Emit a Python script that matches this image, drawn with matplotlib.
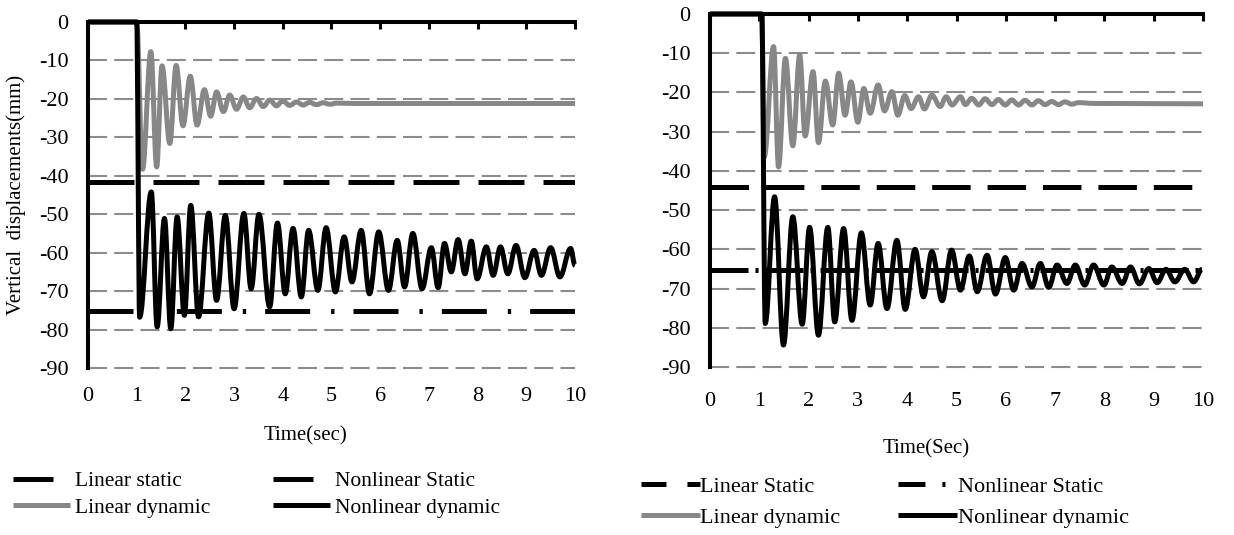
import matplotlib
matplotlib.use("Agg")
import matplotlib.pyplot as plt
from matplotlib.lines import Line2D
from matplotlib.path import Path
from matplotlib.patches import PathPatch

plt.rcParams["font.family"] = ["Liberation Serif", "DejaVu Serif"]
plt.rcParams["lines.scale_dashes"] = False   # dash lengths in points
plt.rcParams["axes.unicode_minus"] = False

# ---------------- data ----------------
# left panel
lin_static_a = -41.7
nonlin_static_a = -75.2

lin_dyn_t_a = [0, 1.0, 1.12, 1.29, 1.41, 1.52, 1.68, 1.81, 1.95, 2.10,
               2.24, 2.39, 2.52, 2.64, 2.78, 2.91, 3.05, 3.19, 3.32, 3.46,
               3.60, 3.73, 3.87, 4.00, 4.14, 4.28, 4.42, 4.55, 4.69, 4.83,
               4.97, 5.10, 5.5, 10.0]
lin_dyn_y_a = [0, 0, -38.3, -7.7, -37.7, -11.4, -31.6, -11.3, -27.0, -14.1,
               -26.8, -17.6, -24.5, -18.2, -23.3, -19.0, -22.7, -19.5, -22.3, -19.9,
               -22.0, -20.3, -21.8, -20.5, -21.7, -20.8, -21.6, -20.9, -21.5, -21.0,
               -21.4, -21.1, -21.2, -21.2]

nonlin_dyn_t_a = [0, 1.0, 1.06, 1.30, 1.42, 1.57, 1.70, 1.83, 1.98, 2.11,
                  2.27, 2.48, 2.64, 2.82, 3.00, 3.20, 3.35, 3.51, 3.73, 3.89,
                  4.05, 4.21, 4.38, 4.53, 4.72, 4.89, 5.08, 5.26, 5.42, 5.61,
                  5.78, 5.97, 6.17, 6.35, 6.50, 6.67, 6.86, 7.05, 7.19, 7.32,
                  7.46, 7.60, 7.74, 7.87, 7.99, 8.18, 8.32, 8.47, 8.62, 8.79,
                  8.97, 9.16, 9.31, 9.50, 9.69, 9.91, 10.0]
nonlin_dyn_y_a = [0, 0, -76.8, -44.2, -79.3, -51.1, -79.8, -50.7, -76.3, -47.7,
                  -76.7, -49.7, -72.4, -50.3, -74.6, -49.8, -69.4, -50.0, -74.1, -52.3,
                  -70.7, -53.7, -71.5, -54.2, -69.8, -53.5, -70.2, -55.9, -67.6, -54.2,
                  -70.7, -54.6, -69.8, -56.8, -68.9, -55.0, -69.4, -58.7, -69.1, -57.6,
                  -65.0, -56.6, -65.5, -57.0, -66.8, -58.5, -65.9, -58.5, -65.5, -58.1,
                  -66.5, -59.4, -65.9, -58.7, -66.3, -58.9, -63.3]

# right panel
lin_static_b = -44.1
nonlin_static_b = -65.3

lin_dyn_t_b = [0, 1.05, 1.10, 1.29, 1.39, 1.53, 1.68, 1.82, 1.93, 2.09,
               2.20, 2.34, 2.49, 2.61, 2.74, 2.86, 3.00, 3.12, 3.25, 3.41,
               3.54, 3.69, 3.81, 3.95, 4.08, 4.23, 4.35, 4.50, 4.67, 4.79,
               4.91, 5.08, 5.18, 5.31, 5.45, 5.58, 5.72, 5.85, 5.99, 6.12,
               6.26, 6.39, 6.53, 6.66, 6.80, 6.93, 7.07, 7.20, 7.34, 7.47,
               7.8, 10.0]
lin_dyn_y_b = [0, 0, -36.5, -8.3, -39.0, -11.3, -33.6, -10.4, -31.1, -14.7,
               -32.8, -17.1, -28.3, -15.1, -25.8, -17.3, -27.6, -19.0, -25.3, -18.1,
               -24.7, -19.8, -25.8, -20.8, -24.1, -21.1, -24.2, -20.7, -23.6, -21.1,
               -23.2, -21.1, -23.1, -21.5, -23.2, -21.6, -23.1, -21.8, -23.2, -21.9,
               -23.2, -22.0, -23.2, -22.1, -23.1, -22.3, -23.1, -22.4, -23.0, -22.6,
               -22.8, -22.9]

nonlin_dyn_t_b = [0, 1.05, 1.12, 1.31, 1.49, 1.68, 1.87, 2.02, 2.20, 2.39,
                  2.53, 2.71, 2.88, 3.07, 3.25, 3.41, 3.59, 3.79, 3.96, 4.16,
                  4.33, 4.50, 4.71, 4.90, 5.08, 5.26, 5.42, 5.62, 5.79, 5.99,
                  6.16, 6.33, 6.53, 6.70, 6.87, 7.04, 7.24, 7.41, 7.60, 7.78,
                  7.99, 8.15, 8.36, 8.53, 8.71, 8.90, 9.07, 9.25, 9.43, 9.63,
                  9.81, 9.98]
nonlin_dyn_y_b = [0, 0, -78.9, -46.6, -84.4, -51.7, -79.1, -54.4, -81.9, -54.4,
                  -78.5, -54.7, -78.1, -55.8, -74.2, -58.5, -75.1, -57.7, -75.3, -60.0,
                  -72.1, -60.6, -73.1, -60.2, -70.4, -61.7, -70.8, -61.5, -71.4, -62.1,
                  -70.4, -63.6, -69.6, -63.6, -69.7, -64.0, -68.7, -64.0, -69.1, -64.0,
                  -69.1, -64.5, -68.7, -64.5, -68.8, -64.9, -68.5, -65.1, -68.3, -65.1,
                  -68.3, -65.1]

x_ticks = list(range(0, 11))
y_ticks = list(range(-90, 1, 10))

GRAY = "#878787"
LW = 3.6

fig = plt.figure(figsize=(12.34, 5.35), dpi=100)
W, H = 1234, 535

def px_axes(x0, y0, x1, y1):
    return fig.add_axes([x0 / W, 1 - y1 / H, (x1 - x0) / W, (y1 - y0) / H])

def style(ax, xpad):
    ax.set_xlim(0, 10)
    ax.set_ylim(-90, 0)
    ax.set_xticks(x_ticks)
    ax.set_yticks(y_ticks)
    for s in ["right", "bottom"]:
        ax.spines[s].set_visible(False)
    for s in ["top", "left"]:
        ax.spines[s].set_linewidth(2.9)
        ax.spines[s].set_zorder(5)
    ax.tick_params(axis="x", top=True, bottom=False, labelbottom=True, labeltop=False,
                   direction="in", length=5, width=2.2, pad=xpad, labelsize=16)
    ax.tick_params(axis="y", left=False, length=0, pad=14, labelsize=16)
    ax.grid(axis="y", color="#8c8c8c", lw=1.5, dashes=(13.7, 5.2))
    ax.set_axisbelow(True)
    for gl in ax.get_ygridlines():
        gl.set_clip_on(False)

def smooth_line(ax, t, y, color):
    # smoothed line through the read points (horizontal tangents at the extrema),
    # like a "smoothed" series: cubic Bezier segments in data coordinates
    verts = [(t[0], y[0])]
    codes = [Path.MOVETO]
    for i in range(1, len(t)):
        dt = t[i] - t[i - 1]
        verts += [(t[i - 1] + 0.36 * dt, y[i - 1]), (t[i] - 0.36 * dt, y[i]), (t[i], y[i])]
        codes += [Path.CURVE4] * 3
    ax.add_patch(PathPatch(Path(verts, codes), fill=False, edgecolor=color, lw=LW,
                           joinstyle="round", capstyle="butt", clip_on=False, zorder=3))

# ---------------- left panel ----------------
ax1 = px_axes(88, 22, 575, 368)
style(ax1, 14)
ax1.plot([0, 10], [lin_static_a] * 2, color="k", lw=LW, dashes=(33.1, 13.7),
         dash_capstyle="butt")
ax1.plot([0, 10], [nonlin_static_a] * 2, color="k", lw=LW, dashes=(32.4, 15.1, 2.4, 13.7),
         dash_capstyle="butt")
smooth_line(ax1, lin_dyn_t_a, lin_dyn_y_a, GRAY)
smooth_line(ax1, nonlin_dyn_t_a, nonlin_dyn_y_a, "k")

# ---------------- right panel ----------------
ax2 = px_axes(710, 14, 1203, 367)
style(ax2, 18)
ax2.plot([0, 10], [lin_static_b] * 2, color="k", lw=LW, dashes=(27.7, 12.2),
         dash_capstyle="butt")
ax2.plot([0, 10], [nonlin_static_b] * 2, color="k", lw=LW, dashes=(27.4, 5.0, 2.2, 5.0),
         dash_capstyle="butt")
smooth_line(ax2, lin_dyn_t_b, lin_dyn_y_b, GRAY)
smooth_line(ax2, nonlin_dyn_t_b, nonlin_dyn_y_b, "k")

# ---------------- labels ----------------
fig.text(16 / W, 1 - 195 / H, "Vertical  displacements(mm)", rotation=90,
         ha="center", va="center", fontsize=15)
fig.text(305 / W, 1 - 436 / H, "Time(sec)", ha="center", va="center", fontsize=15)
fig.text(926 / W, 1 - 449 / H, "Time(Sec)", ha="center", va="center", fontsize=15)

# ---------------- legends ----------------
h_a = [Line2D([], [], color="k", lw=LW, dashes=(28.8, 40), dash_capstyle="butt"),
       Line2D([], [], color=GRAY, lw=LW, solid_capstyle="butt"),
       Line2D([], [], color="k", lw=LW, dashes=(28.8, 40), dash_capstyle="butt"),
       Line2D([], [], color="k", lw=LW, solid_capstyle="butt")]
fig.legend(h_a, ["Linear static", "Linear dynamic", "Nonlinear Static", "Nonlinear dynamic"],
           loc="upper left", bbox_to_anchor=(13 / W, 1 - 471 / H), ncol=2, frameon=False,
           fontsize=15.5, borderpad=0, borderaxespad=0, handlelength=2.65,
           handletextpad=0.23, columnspacing=2.9, labelspacing=0.3)

h_b = [Line2D([], [], color="k", lw=LW, dashes=(18, 15.1), dash_capstyle="butt"),
       Line2D([], [], color=GRAY, lw=LW, solid_capstyle="butt"),
       Line2D([], [], color="k", lw=LW, dashes=(19.4, 12.2, 2.2, 30), dash_capstyle="butt"),
       Line2D([], [], color="k", lw=LW, solid_capstyle="butt")]
fig.legend(h_b, ["Linear Static", "Linear dynamic", "Nonlinear Static", "Nonlinear dynamic"],
           loc="upper left", bbox_to_anchor=(641 / W, 1 - 476 / H), ncol=2, frameon=False,
           fontsize=16, borderpad=0, borderaxespad=0, handlelength=2.65,
           handletextpad=0.02, columnspacing=2.6, labelspacing=0.5)

fig.savefig("out.png", dpi=100)
